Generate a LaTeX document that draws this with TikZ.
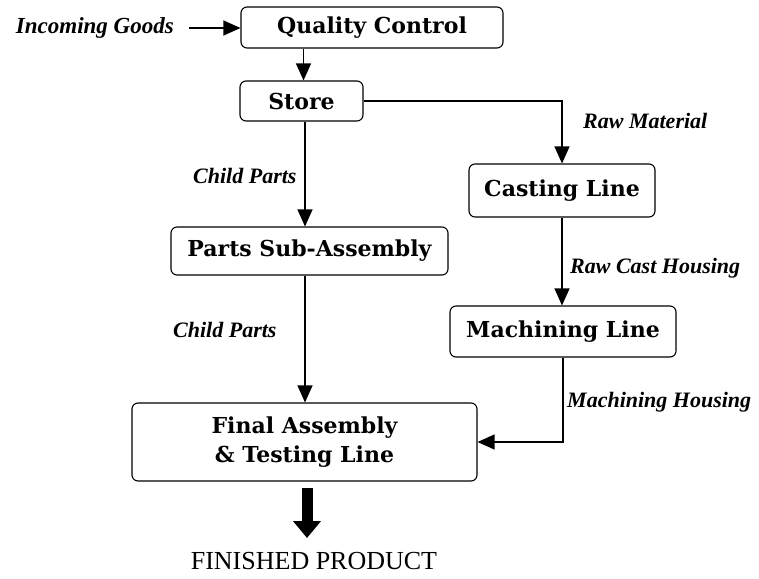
\documentclass[tikz,border=0pt]{standalone}
\usepackage{fontspec}
\setmainfont{Liberation Serif}
\newfontfamily\boxfont{DejaVu Serif}
\usetikzlibrary{arrows.meta}
\tikzset{
  proc/.style={draw, line width=1.1pt, rounded corners=6pt, inner sep=0pt,
    align=center, font=\boxfont\bfseries\fontsize{22}{29.5}\selectfont},
  flowlabel/.style={inner sep=0pt, anchor=west,
    font=\bfseries\itshape\fontsize{22}{26}\selectfont},
  flow/.style={line width=1.2pt, -{Triangle[length=17pt,width=15pt]}},
  bigflow/.style={line width=11pt, -{Triangle[length=17pt,width=27pt]}}
}
\begin{document}
\begin{tikzpicture}[x=1pt,y=-1pt]
\useasboundingbox (0,0) rectangle (759,578);

% process boxes
\node[proc, minimum width=262pt, minimum height=41pt] (qc)    at (372,27.5)  {Quality Control};
\node[proc, minimum width=123pt, minimum height=40pt] (store) at (301.5,101)  {Store};
\node[proc, minimum width=186pt, minimum height=53pt] (cast)  at (562,190.5) {Casting Line};
\node[proc, minimum width=277pt, minimum height=48pt] (parts) at (309.5,251) {Parts Sub-Assembly};
\node[proc, minimum width=226pt, minimum height=51pt] (mach)  at (563,331.5) {Machining Line};
\node[proc, minimum width=345pt, minimum height=78pt] (final) at (304.5,442) {Final Assembly\\\& Testing Line};

% free text
\node[inner sep=0pt, anchor=east, font=\bfseries\itshape\fontsize{23}{26}\selectfont] (in) at (174,28) {Incoming Goods};
\node[inner sep=0pt, font=\fontsize{26}{30}\selectfont] (fin) at (314,561) {FINISHED PRODUCT};

% flows
\draw[flow] (in.east) ++(15pt,0) coordinate (inarr) -- (qc.west |- inarr);
\draw[flow] (qc.south -| store.north) ++(2,0) coordinate (qs) -- (qs |- store.north);
\draw[flow] (store.east) -| (cast.north);
\draw[flow] (store.south) ++(3.5,0) coordinate (sp) -- (sp |- parts.north);
\draw[flow] (parts.south) ++(-4.5,0) coordinate (pf) -- (pf |- final.north);
\draw[flow] (cast.south) -- (cast.south |- mach.north);
\draw[flow] (mach.south) |- (final.east);
\draw[bigflow] (final.south) ++(2.5,6) coordinate (fa) -- (fa |- 0,538);

% flow labels
\node[flowlabel] (l1) at (583,121) {Raw Material};
\node[flowlabel] (l2) at (193,176) {Child Parts};
\node[flowlabel] (l3) at (570,268) {Raw Cast Housing};
\node[flowlabel] (l4) at (173,330) {Child Parts};
\node[flowlabel] (l5) at (567,402) {Machining Housing};
\end{tikzpicture}
\end{document}
